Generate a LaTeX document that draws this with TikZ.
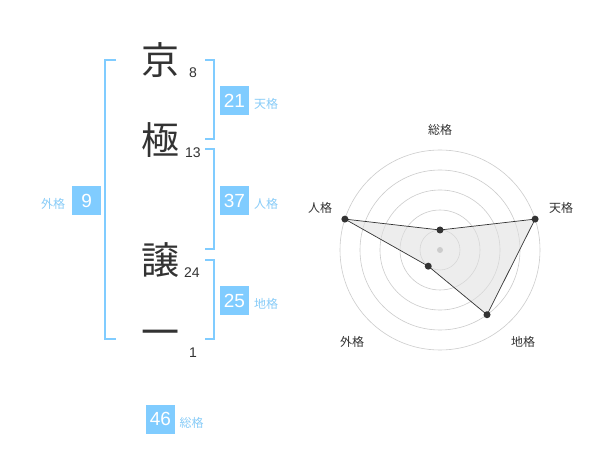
\documentclass[tikz,border=0pt]{standalone}
\usepackage{fontspec}
\setmainfont{Liberation Sans}
\newfontfamily\jp{Noto Sans CJK JP}
\begin{document}
\begin{tikzpicture}[x=1pt,y=-1pt]
\definecolor{bl}{HTML}{80CCFF}
\definecolor{bllab}{HTML}{88CCF8}
\definecolor{tx}{HTML}{333333}
\definecolor{ring}{HTML}{CCCCCC}
\tikzset{
  kanji/.style={inner sep=0pt, font=\jp\fontsize{38}{38}\selectfont, text=tx},
  strokes/.style={inner sep=0pt, font=\fontsize{14}{14}\selectfont, text=tx},
  numbox/.style={fill=bl, minimum width=29pt, minimum height=29pt, inner sep=0pt, text=white, font=\fontsize{19}{19}\selectfont},
  kaku/.style={inner sep=0pt, font=\jp\fontsize{12}{12}\selectfont, text=bllab},
  brk/.style={draw=bl, line width=2pt},
  radlab/.style={inner sep=0pt, font=\jp\fontsize{12}{12}\selectfont, text=tx},
  dot/.style={circle, fill=tx, inner sep=0pt, minimum size=7pt},
}
\useasboundingbox (0,0) rectangle (600,470);
\fill[white] (0,0) rectangle (600,470);
% kanji
\node[kanji] (k1) at (160,60) {京};
\node[kanji] (k2) at (160,140) {極};
\node[kanji] (k3) at (160,260) {譲};
\node[kanji] (k4) at (160,338) {一};
\node[strokes] (s1) at (193,73) {8};
\node[strokes] (s2) at (193,153) {13};
\node[strokes] (s3) at (192,273) {24};
\node[strokes] (s4) at (193,353) {1};
% brackets
\draw[brk] (116,60) -- (105,60) -- (105,339.5) -- (116,339.5);
\draw[brk] (205,60) -- (214,60) -- (214,139.5) -- (205,139.5);
\draw[brk] (205,149.5) -- (214,149.5) -- (214,249.5) -- (205,249.5);
\draw[brk] (205,260) -- (214,260) -- (214,339.5) -- (205,339.5);
% boxes
\node[numbox] (ten) at (234.5,100.5) {21};
\node[kaku] (tenl) at (266,104) {天格};
\node[numbox] (jin) at (234.5,200.5) {37};
\node[kaku] (jinl) at (266,204) {人格};
\node[numbox] (gai) at (86.7,200.5) {9};
\node[kaku] (gail) at (53,204) {外格};
\node[numbox] (chi) at (234.5,300.5) {25};
\node[kaku] (chil) at (266,304) {地格};
\node[numbox] (sou) at (160.5,419) {46};
\node[kaku] (soul) at (191.7,423) {総格};
% radar
\begin{scope}[shift={(440,250)}, y=1pt]
  \foreach \r in {20,40,60,80,100} \draw[ring, line width=0.6pt] (0,0) circle (\r);
  \coordinate (pS) at (90:20);
  \coordinate (pT) at (18:100);
  \coordinate (pC) at (-54:80);
  \coordinate (pG) at (-126:20);
  \coordinate (pJ) at (162:100);
  \fill[black!12, opacity=0.55] (pS) -- (pT) -- (pC) -- (pG) -- (pJ) -- cycle;
  \draw[tx, line width=0.7pt] (pS) -- (pT) -- (pC) -- (pG) -- (pJ) -- cycle;
  \node[circle, fill=ring, inner sep=0pt, minimum size=6pt] (ctr) at (0,0) {};
  \foreach \p in {pS,pT,pC,pG,pJ} \node[dot] at (\p) {};
\end{scope}
\node[radlab] (rS) at (440,130) {総格};
\node[radlab] (rT) at (561,208) {天格};
\node[radlab] (rJ) at (320,208) {人格};
\node[radlab] (rG) at (352,342) {外格};
\node[radlab] (rC) at (523,342) {地格};
\end{tikzpicture}
\end{document}
